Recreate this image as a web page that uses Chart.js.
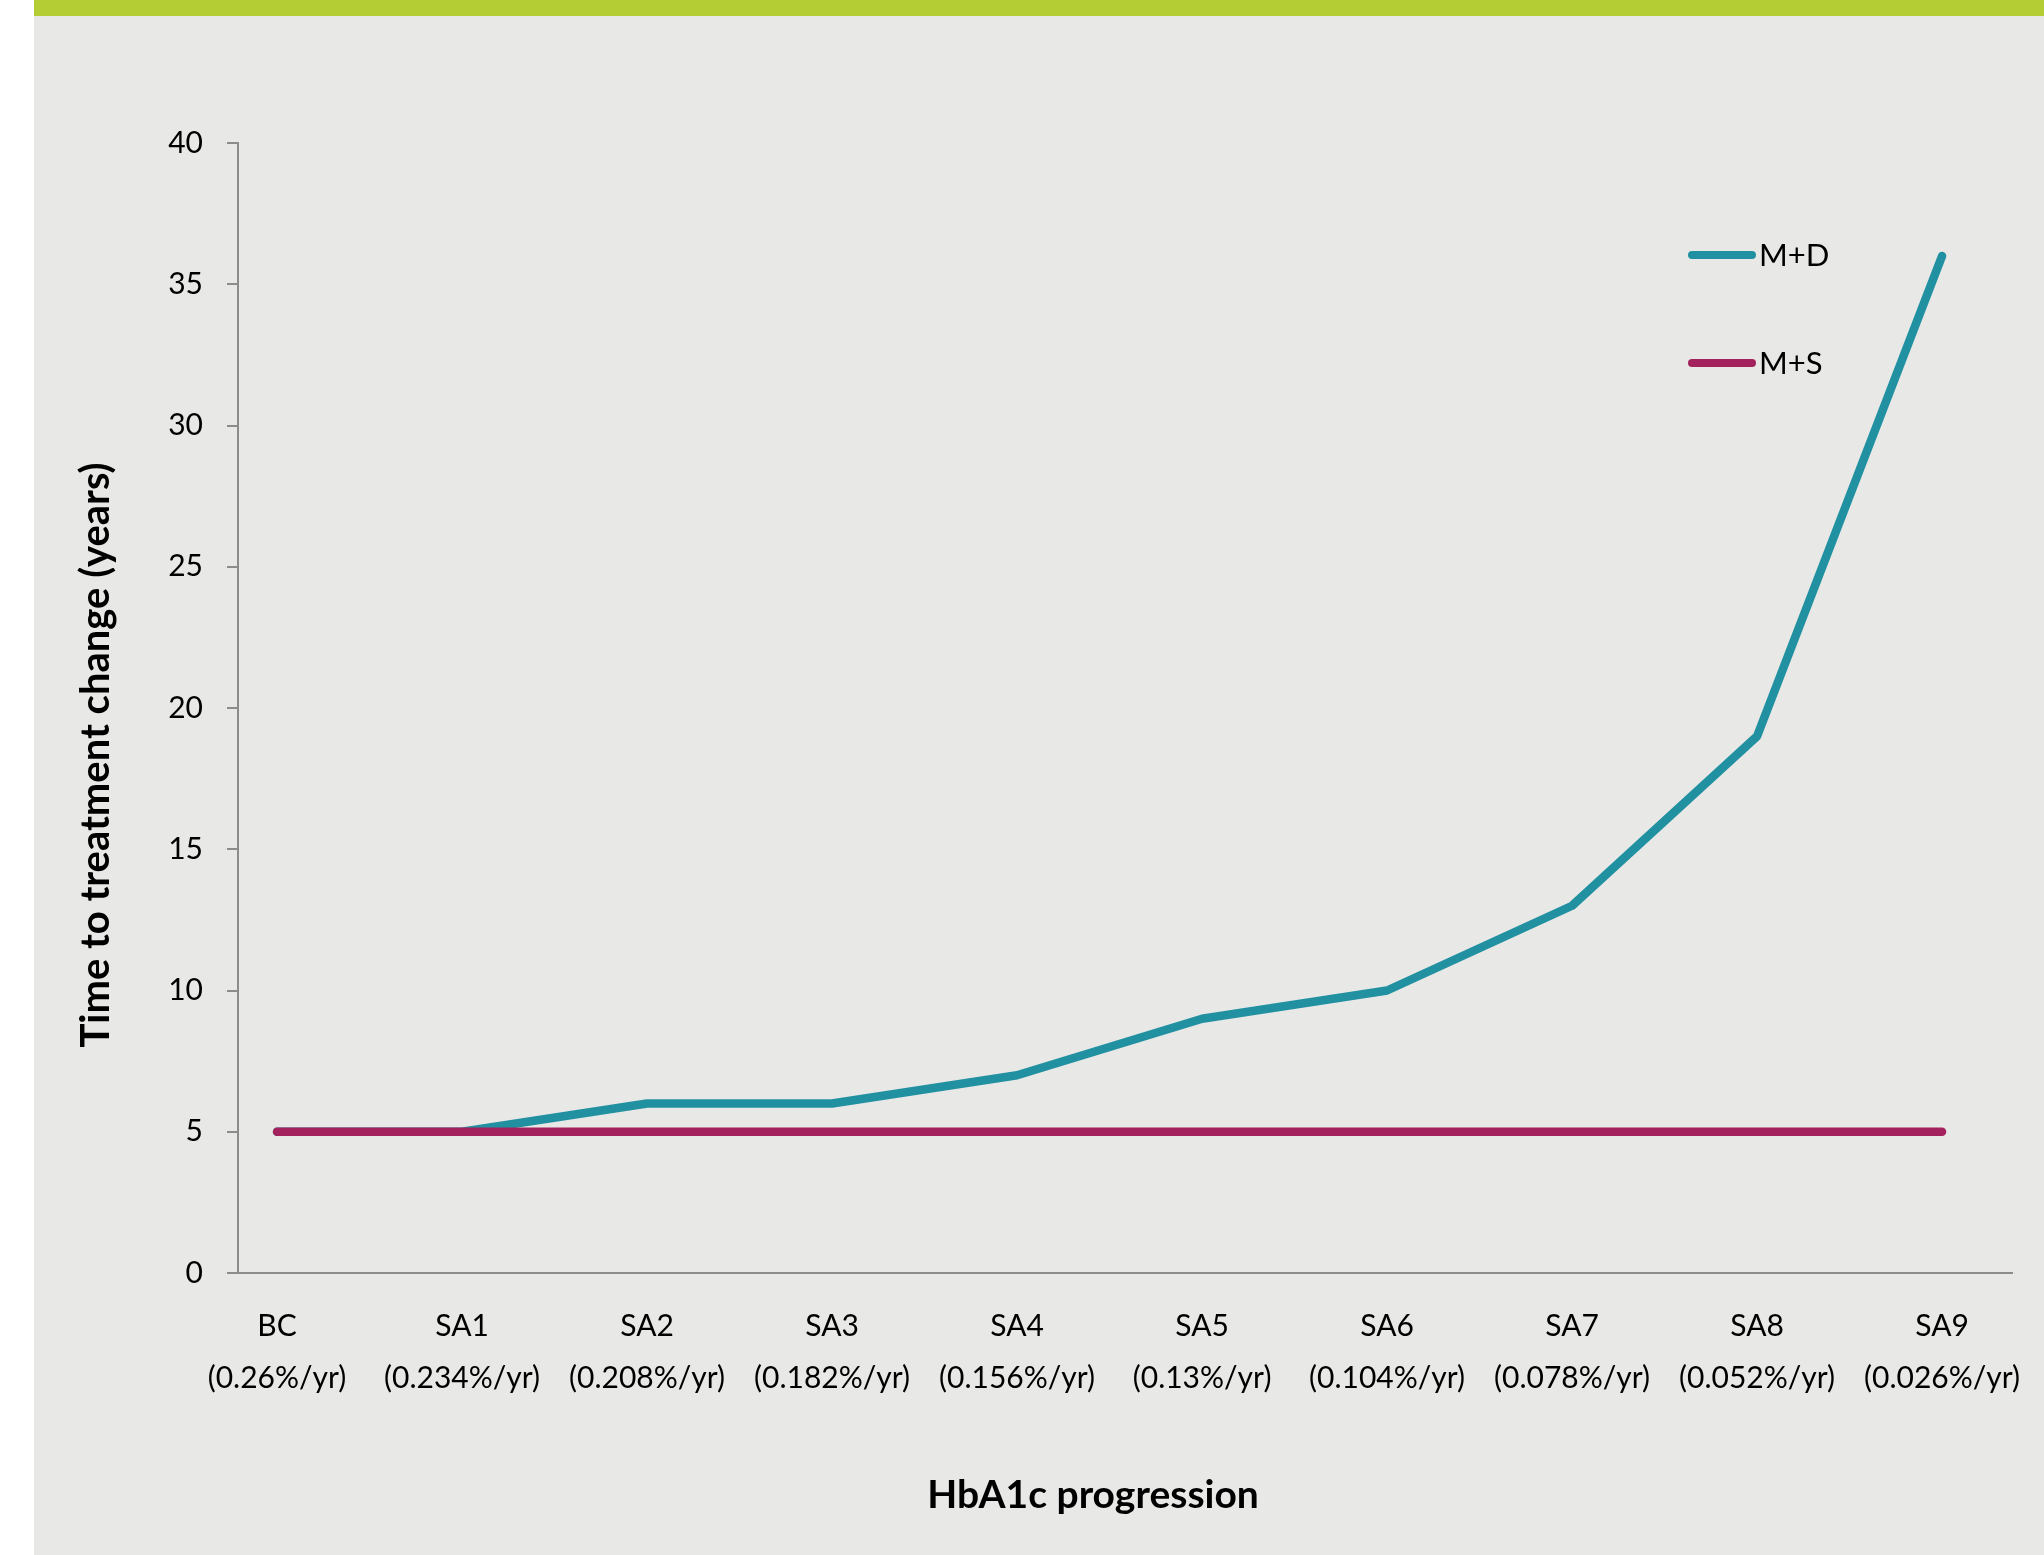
<!DOCTYPE html>
<html>
<head>
<meta charset="utf-8">
<script src="https://cdn.jsdelivr.net/npm/chart.js@4"></script>
<style>
  html, body { margin: 0; padding: 0; background: #fff; }
  #wrap { position: relative; width: 2044px; height: 1555px; }
</style>
</head>
<body>
<div id="wrap"><canvas id="chart"></canvas></div>
<script>
// Data
const codes = ["BC", "SA1", "SA2", "SA3", "SA4", "SA5", "SA6", "SA7", "SA8", "SA9"];
const rates = ["(0.26%/yr)", "(0.234%/yr)", "(0.208%/yr)", "(0.182%/yr)", "(0.156%/yr)",
               "(0.13%/yr)", "(0.104%/yr)", "(0.078%/yr)", "(0.052%/yr)", "(0.026%/yr)"];
const mdValues = [5, 5, 6, 6, 7, 9, 10, 13, 19, 36];
const msValues = [5, 5, 5, 5, 5, 5, 5, 5, 5, 5];
const yTicks = [0, 5, 10, 15, 20, 25, 30, 35, 40];

const FONT = "Lato, 'Open Sans', sans-serif";
const TEAL = "#2191a2";
const PLUM = "#a3215c";
const AXIS = "#8c8c8c";

function toPoints(values) {
  return values.map((v, i) => ({ x: i, y: v }));
}

// page background, axis titles and the legend
const decor = {
  id: "decor",
  beforeDraw(chart) {
    const ctx = chart.ctx;
    ctx.save();
    ctx.fillStyle = "#ffffff";
    ctx.fillRect(0, 0, chart.width, chart.height);
    ctx.fillStyle = "#e8e9e6";
    ctx.fillRect(34, 16, chart.width - 34, chart.height - 16);
    ctx.fillStyle = "#b5cd34";
    ctx.fillRect(34, 0, chart.width - 34, 16);
    ctx.restore();
  },
  afterDraw(chart) {
    const ctx = chart.ctx;
    ctx.save();
    ctx.fillStyle = "#000";
    ctx.textAlign = "center";
    ctx.textBaseline = "middle";
    ctx.font = "bold 39px " + FONT;
    ctx.fillText("HbA1c progression", 1093, 1495);
    ctx.font = "bold 40px " + FONT;
    ctx.translate(96, 755);
    ctx.rotate(-Math.PI / 2);
    ctx.fillText("Time to treatment change (years)", 0, 0);
    ctx.restore();

    // legend
    ctx.save();
    ctx.font = "31px " + FONT;
    ctx.textBaseline = "middle";
    ctx.textAlign = "left";
    chart.data.datasets.forEach((ds, i) => {
      const y = 255 + i * 108;
      ctx.strokeStyle = ds.borderColor;
      ctx.lineWidth = 8;
      ctx.lineCap = "round";
      ctx.beginPath();
      ctx.moveTo(1692, y);
      ctx.lineTo(1752, y);
      ctx.stroke();
      ctx.fillStyle = "#000";
      ctx.fillText(ds.label, 1759, y + 1);
    });
    ctx.restore();
  }
};

new Chart(document.getElementById("chart"), {
  type: "line",
  data: {
    datasets: [
      {
        label: "M+D",
        data: toPoints(mdValues),
        borderColor: TEAL,
        borderWidth: 8.5,
        order: 1
      },
      {
        label: "M+S",
        data: toPoints(msValues),
        borderColor: PLUM,
        borderWidth: 8.5,
        order: 0
      }
    ]
  },
  options: {
    responsive: true,
    maintainAspectRatio: false,
    animation: false,
    elements: {
      line: { tension: 0, borderCapStyle: "round", borderJoinStyle: "round", fill: false },
      point: { radius: 0, hoverRadius: 0 }
    },
    layout: { padding: { left: 0, top: 143, right: 32, bottom: 0 } },
    plugins: {
      legend: { display: false },
      tooltip: { enabled: false }
    },
    scales: {
      x: {
        type: "linear",
        min: -0.211,
        max: 9.378,
        afterBuildTicks(scale) {
          scale.ticks = codes.map((_, i) => ({ value: i }));
        },
        afterFit(scale) {
          scale.height = 282;
          scale.paddingLeft = 0;
          scale.paddingRight = 0;
        },
        grid: { display: false, drawTicks: false },
        border: { display: true, color: AXIS, width: 2 },
        ticks: {
          autoSkip: false,
          maxRotation: 0,
          padding: 27,
          color: "#000",
          font: { family: FONT, size: 30, lineHeight: 1.73 },
          callback: (value) => [codes[value], rates[value]]
        }
      },
      y: {
        min: 0,
        max: 40,
        afterBuildTicks(scale) {
          scale.ticks = yTicks.map((v) => ({ value: v }));
        },
        afterFit(scale) {
          scale.width = 238;
        },
        grid: {
          drawOnChartArea: false,
          drawTicks: true,
          tickLength: 11,
          color: AXIS,
          lineWidth: 2
        },
        border: { display: true, color: AXIS, width: 2 },
        ticks: {
          padding: 24,
          color: "#000",
          font: { family: FONT, size: 30 }
        }
      }
    }
  },
  plugins: [decor]
});
</script>
</body>
</html>
